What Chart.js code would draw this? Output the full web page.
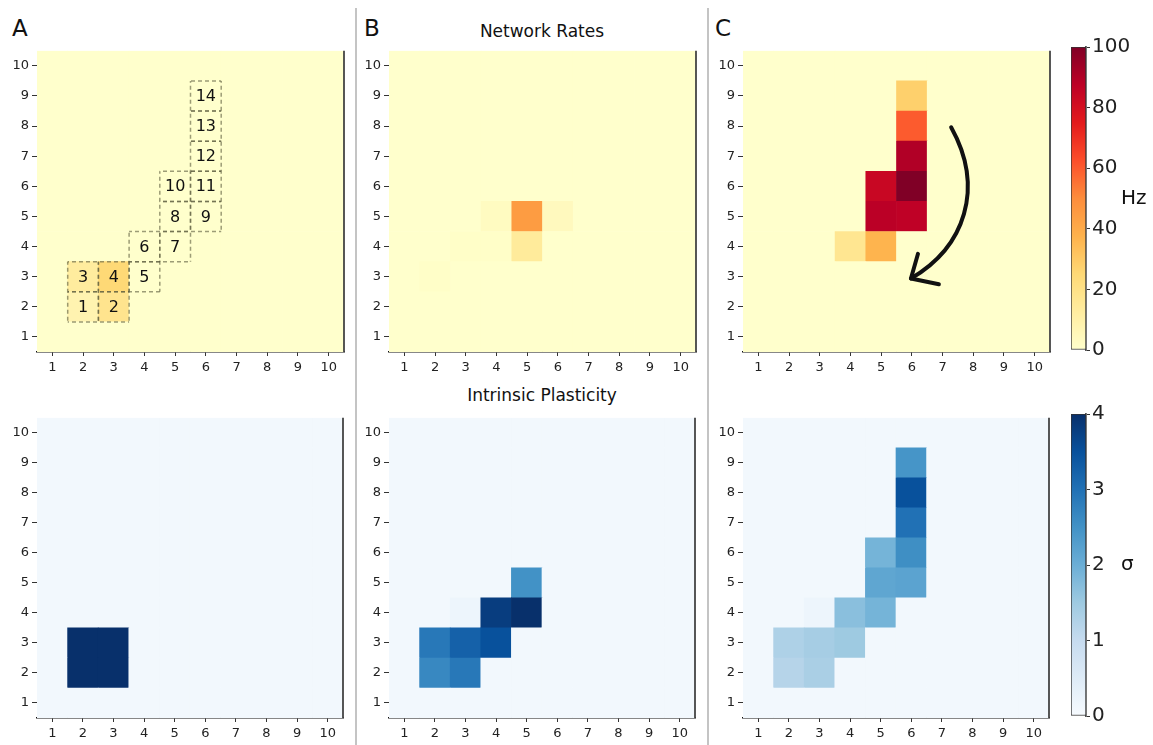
<!DOCTYPE html>
<html>
<head>
<meta charset="utf-8">
<script src="https://cdn.jsdelivr.net/npm/chart.js@4/dist/chart.umd.min.js"></script>
<style>
  body { margin: 0; background: #fff; width: 1153px; height: 745px; overflow: hidden; position: relative; font-family: 'DejaVu Sans', sans-serif; }
  canvas { position: absolute; }
  .sep { position: absolute; top: 8px; width: 2px; height: 737px; background: #c4c4c4; }
  .txt { position: absolute; line-height: 1; color: #111; white-space: nowrap; }
</style>
</head>
<body>
<div class="sep" style="left:355px"></div>
<div class="sep" style="left:707px"></div>
<div class="txt" style="left:12px;top:17px;font-size:23px">A</div>
<div class="txt" style="left:364px;top:17px;font-size:23px">B</div>
<div class="txt" style="left:715px;top:17px;font-size:23px">C</div>
<div class="txt" style="left:389px;top:23px;width:306px;text-align:center;font-size:17px">Network Rates</div>
<div class="txt" style="left:389px;top:387px;width:306px;text-align:center;font-size:17px">Intrinsic Plasticity</div>

<canvas id="rA"></canvas><canvas id="rB"></canvas><canvas id="rC"></canvas><canvas id="rBar"></canvas>
<canvas id="sA"></canvas><canvas id="sB"></canvas><canvas id="sC"></canvas><canvas id="sBar"></canvas>

<script>
// grid labels
const cols = ['1', '2', '3', '4', '5', '6', '7', '8', '9', '10'];
const rows = [10, 9, 8, 7, 6, 5, 4, 3, 2, 1]; // top row first

// firing rates (Hz), rows from y=10 down to y=1
const rateA = [
  [0, 0, 0, 0, 0, 0, 0, 0, 0, 0],
  [0, 0, 0, 0, 0, 0, 0, 0, 0, 0],
  [0, 0, 0, 0, 0, 0, 0, 0, 0, 0],
  [0, 0, 0, 0, 0, 0, 0, 0, 0, 0],
  [0, 0, 0, 0, 0, 0, 0, 0, 0, 0],
  [0, 0, 0, 0, 0, 0, 0, 0, 0, 0],
  [0, 0, 0, 0, 0, 0, 0, 0, 0, 0],
  [0, 13, 25, 0, 0, 0, 0, 0, 0, 0],
  [0, 8, 18, 0, 0, 0, 0, 0, 0, 0],
  [0, 0, 0, 0, 0, 0, 0, 0, 0, 0]
];
const rateB = [
  [0, 0, 0, 0, 0, 0, 0, 0, 0, 0],
  [0, 0, 0, 0, 0, 0, 0, 0, 0, 0],
  [0, 0, 0, 0, 0, 0, 0, 0, 0, 0],
  [0, 0, 0, 0, 0, 0, 0, 0, 0, 0],
  [0, 0, 0, 0, 0, 0, 0, 0, 0, 0],
  [0, 0, 0, 3, 45, 4, 0, 0, 0, 0],
  [0, 0, 1, 1, 14, 0, 0, 0, 0, 0],
  [0, 1, 0, 0, 0, 0, 0, 0, 0, 0],
  [0, 0, 0, 0, 0, 0, 0, 0, 0, 0],
  [0, 0, 0, 0, 0, 0, 0, 0, 0, 0]
];
const rateC = [
  [0, 0, 0, 0, 0, 0, 0, 0, 0, 0],
  [0, 0, 0, 0, 0, 28, 0, 0, 0, 0],
  [0, 0, 0, 0, 0, 60, 0, 0, 0, 0],
  [0, 0, 0, 0, 0, 90, 0, 0, 0, 0],
  [0, 0, 0, 0, 84, 100, 0, 0, 0, 0],
  [0, 0, 0, 0, 88, 87, 0, 0, 0, 0],
  [0, 0, 0, 17, 37, 0, 0, 0, 0, 0],
  [0, 0, 0, 0, 0, 0, 0, 0, 0, 0],
  [0, 0, 0, 0, 0, 0, 0, 0, 0, 0],
  [0, 0, 0, 0, 0, 0, 0, 0, 0, 0]
];

// intrinsic plasticity sigma
const sigmaA = [
  [0.1, 0.1, 0.1, 0.1, 0.1, 0.1, 0.1, 0.1, 0.1, 0.1],
  [0.1, 0.1, 0.1, 0.1, 0.1, 0.1, 0.1, 0.1, 0.1, 0.1],
  [0.1, 0.1, 0.1, 0.1, 0.1, 0.1, 0.1, 0.1, 0.1, 0.1],
  [0.1, 0.1, 0.1, 0.1, 0.1, 0.1, 0.1, 0.1, 0.1, 0.1],
  [0.1, 0.1, 0.1, 0.1, 0.1, 0.1, 0.1, 0.1, 0.1, 0.1],
  [0.1, 0.1, 0.1, 0.1, 0.1, 0.1, 0.1, 0.1, 0.1, 0.1],
  [0.1, 0.1, 0.1, 0.1, 0.1, 0.1, 0.1, 0.1, 0.1, 0.1],
  [0.1, 4, 4, 0.1, 0.1, 0.1, 0.1, 0.1, 0.1, 0.1],
  [0.1, 4, 4, 0.1, 0.1, 0.1, 0.1, 0.1, 0.1, 0.1],
  [0.1, 0.1, 0.1, 0.1, 0.1, 0.1, 0.1, 0.1, 0.1, 0.1]
];
const sigmaB = [
  [0.1, 0.1, 0.1, 0.1, 0.1, 0.1, 0.1, 0.1, 0.1, 0.1],
  [0.1, 0.1, 0.1, 0.1, 0.1, 0.1, 0.1, 0.1, 0.1, 0.1],
  [0.1, 0.1, 0.1, 0.1, 0.1, 0.1, 0.1, 0.1, 0.1, 0.1],
  [0.1, 0.1, 0.1, 0.1, 0.1, 0.1, 0.1, 0.1, 0.1, 0.1],
  [0.1, 0.1, 0.1, 0.1, 0.1, 0.1, 0.1, 0.1, 0.1, 0.1],
  [0.1, 0.1, 0.1, 0.1, 2.5, 0.1, 0.1, 0.1, 0.1, 0.1],
  [0.1, 0.1, 0.2, 3.8, 4, 0.1, 0.1, 0.1, 0.1, 0.1],
  [0.1, 2.9, 3.25, 3.5, 0.1, 0.1, 0.1, 0.1, 0.1, 0.1],
  [0.1, 2.65, 2.9, 0.1, 0.1, 0.1, 0.1, 0.1, 0.1, 0.1],
  [0.1, 0.1, 0.1, 0.1, 0.1, 0.1, 0.1, 0.1, 0.1, 0.1]
];
const sigmaC = [
  [0.1, 0.1, 0.1, 0.1, 0.1, 0.1, 0.1, 0.1, 0.1, 0.1],
  [0.1, 0.1, 0.1, 0.1, 0.1, 2.45, 0.1, 0.1, 0.1, 0.1],
  [0.1, 0.1, 0.1, 0.1, 0.1, 3.5, 0.1, 0.1, 0.1, 0.1],
  [0.1, 0.1, 0.1, 0.1, 0.1, 3.0, 0.1, 0.1, 0.1, 0.1],
  [0.1, 0.1, 0.1, 0.1, 1.9, 2.55, 0.1, 0.1, 0.1, 0.1],
  [0.1, 0.1, 0.1, 0.1, 2.15, 2.2, 0.1, 0.1, 0.1, 0.1],
  [0.1, 0.1, 0.2, 1.7, 1.9, 0.1, 0.1, 0.1, 0.1, 0.1],
  [0.1, 1.3, 1.4, 1.5, 0.1, 0.1, 0.1, 0.1, 0.1, 0.1],
  [0.1, 1.2, 1.35, 0.1, 0.1, 0.1, 0.1, 0.1, 0.1, 0.1],
  [0.1, 0.1, 0.1, 0.1, 0.1, 0.1, 0.1, 0.1, 0.1, 0.1]
];

const rateTicks = [0, 20, 40, 60, 80, 100];
const sigmaTicks = [0, 1, 2, 3, 4];

// numbered cluster boxes in panel A
const boxCols = [2, 3, 2, 3, 4, 4, 5, 5, 6, 5, 6, 6, 6, 6];
const boxRows = [2, 2, 3, 3, 3, 4, 4, 5, 5, 6, 6, 7, 8, 9];
const boxNums = ['1', '2', '3', '4', '5', '6', '7', '8', '9', '10', '11', '12', '13', '14'];

// arrow in panel C (data coords): bezier start, c1, c2, tip, then two barbs
const arrowX = [7.28, 8.38, 7.73, 5.97, 6.2, 6.88];
const arrowY = [7.96, 5.94, 3.99, 2.94, 3.76, 2.75];

const ylOrRd = ['#ffffcc', '#ffeda0', '#fed976', '#feb24c', '#fd8d3c', '#fc4e2a', '#e31a1c', '#bd0026', '#800026'];
const blues = ['#f7fbff', '#deebf7', '#c6dbef', '#9ecae1', '#6baed6', '#4292c6', '#2171b5', '#08519c', '#08306b'];

const FONT = 'DejaVu Sans';

function hexRgb(h) {
  return [parseInt(h.slice(1, 3), 16), parseInt(h.slice(3, 5), 16), parseInt(h.slice(5, 7), 16)];
}

function cmap(stops, t) {
  t = Math.max(0, Math.min(1, t));
  const p = t * (stops.length - 1);
  const i = Math.min(Math.floor(p), stops.length - 2);
  const f = p - i;
  const a = hexRgb(stops[i]), b = hexRgb(stops[i + 1]);
  const c = a.map((v, k) => Math.round(v + (b[k] - v) * f));
  return 'rgb(' + c.join(',') + ')';
}

const spines = {
  id: 'spines',
  afterDraw(chart) {
    const {ctx, chartArea: a} = chart;
    ctx.save();
    ctx.strokeStyle = '#444';
    ctx.lineWidth = 1.8;
    ctx.beginPath();
    ctx.moveTo(a.right, a.top);
    ctx.lineTo(a.right, a.bottom);
    ctx.stroke();
    ctx.restore();
  }
};

const boxes = {
  id: 'boxes',
  afterDatasetsDraw(chart) {
    const {ctx, chartArea: area, scales: {x, y}} = chart;
    const half = (x.getPixelForValue(1) - x.getPixelForValue(0)) / 2;
    // draw each edge left->right / top->bottom with a dash phase tied to the plot origin,
    // so edges shared by two boxes stay dashed
    const hLine = (x0, x1, yy) => {
      ctx.lineDashOffset = x0 - area.left;
      ctx.beginPath(); ctx.moveTo(x0, yy); ctx.lineTo(x1, yy); ctx.stroke();
    };
    const vLine = (xx, y0, y1) => {
      ctx.lineDashOffset = y0 - area.top;
      ctx.beginPath(); ctx.moveTo(xx, y0); ctx.lineTo(xx, y1); ctx.stroke();
    };
    ctx.save();
    ctx.strokeStyle = 'rgba(90,90,60,0.6)';
    ctx.lineWidth = 1.5;
    ctx.setLineDash([4, 3]);
    boxCols.forEach((c, i) => {
      const cx = x.getPixelForValue(c - 1);
      const y0 = y.getPixelForValue(boxRows[i] + 0.5);
      const y1 = y.getPixelForValue(boxRows[i] - 0.5);
      hLine(cx - half, cx + half, y0);
      hLine(cx - half, cx + half, y1);
      vLine(cx - half, y0, y1);
      vLine(cx + half, y0, y1);
    });
    ctx.setLineDash([]);
    ctx.fillStyle = '#111';
    ctx.font = '16px ' + FONT;
    ctx.textAlign = 'center';
    ctx.textBaseline = 'middle';
    boxCols.forEach((c, i) => {
      ctx.fillText(boxNums[i], x.getPixelForValue(c - 1), y.getPixelForValue(boxRows[i]) + 1);
    });
    ctx.restore();
  }
};

const arrow = {
  id: 'arrow',
  afterDatasetsDraw(chart) {
    const {ctx, scales: {x, y}} = chart;
    const px = arrowX.map(v => x.getPixelForValue(v - 1));
    const py = arrowY.map(v => y.getPixelForValue(v));
    ctx.save();
    ctx.strokeStyle = '#111';
    ctx.lineWidth = 4;
    ctx.lineCap = 'round';
    ctx.lineJoin = 'round';
    ctx.beginPath();
    ctx.moveTo(px[0], py[0]);
    ctx.bezierCurveTo(px[1], py[1], px[2], py[2], px[3], py[3]);
    ctx.stroke();
    ctx.beginPath();
    ctx.moveTo(px[4], py[4]);
    ctx.lineTo(px[3], py[3]);
    ctx.lineTo(px[5], py[5]);
    ctx.stroke();
    ctx.restore();
  }
};

function heat(id, grid, stops, vmax, plotLeft, plotTop, size, extra) {
  const el = document.getElementById(id);
  el.width = 37 + size + 8;
  el.height = 5 + size + 30;
  el.style.left = (plotLeft - 37) + 'px';
  el.style.top = (plotTop - 5) + 'px';

  const cells = [];
  grid.forEach((row, ri) => row.forEach((v, ci) => {
    cells.push({x: cols[ci], y: [rows[ri] - 0.5, rows[ri] + 0.5], v: v});
  }));

  const tickFont = {family: FONT, size: 13};
  new Chart(el, {
    type: 'bar',
    data: {
      labels: cols,
      datasets: [{
        data: cells,
        backgroundColor: c => cmap(stops, c.raw.v / vmax),
        borderWidth: 0,
        categoryPercentage: 1,
        barPercentage: 1
      }]
    },
    options: {
      responsive: false,
      animation: false,
      layout: {padding: {left: 0, top: 5, right: 8, bottom: 0}},
      plugins: {legend: {display: false}, tooltip: {enabled: false}},
      scales: {
        x: {
          type: 'category',
          offset: true,
          grid: {display: true, offset: false, drawOnChartArea: false, drawTicks: true, tickLength: 4, color: '#333'},
          border: {display: true, color: '#111', width: 1.5},
          ticks: {font: tickFont, color: '#222', padding: 4, maxRotation: 0, autoSkip: false},
          afterFit: s => { s.height = 30; }
        },
        y: {
          type: 'linear',
          min: 0.5,
          max: 10.5,
          afterBuildTicks: s => { s.ticks = rows.slice().reverse().map(v => ({value: v})); },
          grid: {display: true, drawOnChartArea: false, drawTicks: true, tickLength: 5, color: '#333'},
          border: {display: false},
          ticks: {font: tickFont, color: '#222', padding: 3},
          afterFit: s => { s.width = 37; }
        }
      }
    },
    plugins: [spines].concat(extra || [])
  });
}

function colorbar(id, stops, ticks, unit, plotTop, size) {
  const el = document.getElementById(id);
  const vmax = ticks[ticks.length - 1];
  el.width = 87;
  el.height = size + 24;
  el.style.left = '1066px';
  el.style.top = (plotTop - 12) + 'px';

  const unitLabel = {
    id: 'unit',
    afterDraw(chart) {
      const {ctx, chartArea: a} = chart;
      ctx.save();
      ctx.fillStyle = '#111';
      ctx.font = '20px ' + FONT;
      ctx.textBaseline = 'middle';
      ctx.fillText(unit, a.right + 35, (a.top + a.bottom) / 2);
      ctx.restore();
    }
  };

  new Chart(el, {
    type: 'bar',
    data: {
      labels: [''],
      datasets: [{
        data: [[0, vmax]],
        backgroundColor: c => {
          const a = c.chart.chartArea;
          if (!a) return stops[0];
          const g = c.chart.ctx.createLinearGradient(0, a.bottom, 0, a.top);
          stops.forEach((s, i) => g.addColorStop(i / (stops.length - 1), s));
          return g;
        },
        borderColor: '#333',
        borderWidth: 1,
        borderSkipped: false,
        categoryPercentage: 1,
        barPercentage: 1
      }]
    },
    options: {
      responsive: false,
      animation: false,
      layout: {padding: {left: 5, top: 12, right: 0, bottom: 12}},
      plugins: {legend: {display: false}, tooltip: {enabled: false}},
      scales: {
        x: {type: 'category', offset: true, display: false},
        y: {
          position: 'right',
          min: 0,
          max: vmax,
          afterBuildTicks: s => { s.ticks = ticks.map(v => ({value: v})); },
          grid: {display: true, drawOnChartArea: false, drawTicks: true, tickLength: 4, color: '#333'},
          border: {display: true, color: '#555', width: 1.8},
          ticks: {font: {family: FONT, size: 20}, color: '#222', padding: 2},
          afterFit: s => { s.width = 67; }
        }
      }
    },
    plugins: [unitLabel]
  });
}

heat('rA', rateA, ylOrRd, 100, 37, 45, 307, [boxes]);
heat('rB', rateB, ylOrRd, 100, 389, 45, 307);
heat('rC', rateC, ylOrRd, 100, 743, 45, 307, [arrow]);
colorbar('rBar', ylOrRd, rateTicks, 'Hz', 45, 307);

heat('sA', sigmaA, blues, 4, 37, 412, 306);
heat('sB', sigmaB, blues, 4, 389, 412, 306);
heat('sC', sigmaC, blues, 4, 743, 412, 306);
colorbar('sBar', blues, sigmaTicks, 'σ', 412, 306);
</script>
</body>
</html>
